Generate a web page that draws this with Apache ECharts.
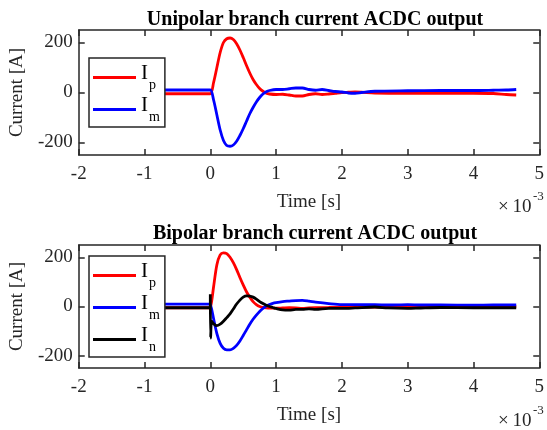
<!DOCTYPE html>
<html>
<head>
<meta charset="utf-8">
<script src="https://cdn.jsdelivr.net/npm/echarts@6/dist/echarts.min.js"></script>
<style>
  html, body { margin: 0; padding: 0; background: #fff; }
  #main { width: 547px; height: 430px; }
</style>
</head>
<body>
<div id="main"></div>
<script>
// time in ms (axis shows x 10^-3 s)
var tUni = [-0.7, -0.4, -0.1, 0, 0.05, 0.1, 0.15, 0.2, 0.25, 0.3, 0.35, 0.4, 0.45, 0.5, 0.55, 0.6, 0.65, 0.7, 0.75, 0.8, 0.85, 0.9, 1.0, 1.1, 1.2, 1.3, 1.4, 1.5, 1.6, 1.7, 1.8, 1.9, 2.0, 2.1, 2.2, 2.3, 2.5, 3.0, 3.5, 4.0, 4.3, 4.5, 4.65];
var ipUni = [-5, -5, -5, -5, 40, 100, 160, 200, 215, 218, 212, 195, 170, 140, 108, 78, 52, 32, 16, 5, -3, -6, -8, -7, -10, -14, -14, -8, -5, -8, -6, -3, 0, 1, 2, 1, -2, -3, -3, -3, -4, -8, -10];
var imUni = [10, 10, 10, 10, -30, -90, -150, -192, -212, -215, -210, -195, -172, -145, -115, -85, -60, -38, -20, -6, 3, 8, 12, 12, 15, 18, 18, 12, 9, 12, 8, 4, 2, -2, -3, 0, 5, 7, 8, 8, 9, 10, 12];

var tBi = [-0.7, -0.4, -0.1, 0, 0, 0.005, 0.02, 0.05, 0.1, 0.15, 0.2, 0.25, 0.3, 0.35, 0.4, 0.45, 0.5, 0.55, 0.6, 0.65, 0.7, 0.75, 0.8, 0.85, 0.9, 0.95, 1.0, 1.1, 1.2, 1.3, 1.4, 1.5, 1.6, 1.8, 2.0, 2.2, 2.5, 2.7, 3.0, 3.2, 3.5, 4.0, 4.3, 4.65];
var ipBi = [-5, -5, -5, -5, -5, -5, 20, 80, 170, 210, 218, 215, 200, 178, 150, 118, 88, 60, 38, 20, 8, 0, -4, -6, -7, -7, -7, -6, -5, -6, -8, -6, -5, -4, -3, -3, -2, -3, -2, -1, 0, 0, 0, 0];
var imBi = [10, 10, 10, 10, 10, 10, -10, -50, -110, -150, -170, -176, -176, -170, -158, -140, -118, -95, -72, -52, -35, -20, -8, 2, 8, 13, 16, 20, 22, 24, 25, 22, 18, 12, 8, 8, 8, 6, 8, 6, 6, 5, 6, 6];
var inBi = [-5, -5, -5, -5, 50, -128, -60, -70, -78, -72, -60, -45, -30, -10, 10, 26, 38, 43, 42, 38, 30, 20, 12, 5, 0, -4, -8, -14, -15, -12, -12, -10, -12, -8, -8, -6, -2, -6, -8, -6, -4, -5, -5, -5];

var xTicks = [-2, 5, 1];
var yTickValues = [-200, 0, 200];
var titles = ['Unipolar branch current ACDC output', 'Bipolar branch current ACDC output'];

function zip(t, v) {
  return t.map(function (x, i) { return [x, v[i]]; });
}

var FONT = '"Liberation Serif", "DejaVu Serif", serif';
var AX = '#262626';

function xAx(grid, top) {
  return {
    type: 'value', gridIndex: grid, min: xTicks[0], max: xTicks[1], interval: xTicks[2],
    position: top ? 'top' : 'bottom',
    name: top ? '' : 'Time [s]', nameLocation: 'middle', nameGap: 38,
    nameTextStyle: { fontFamily: FONT, fontSize: 19, color: AX },
    axisLine: { show: true, onZero: false, lineStyle: { color: AX, width: 1.5 } },
    axisTick: { show: true, inside: true, length: 6, lineStyle: { color: AX, width: 1.5 } },
    axisLabel: { show: !top, margin: 10, fontFamily: FONT, fontSize: 19, color: AX },
    splitLine: { show: false }
  };
}

function yAx(grid, right) {
  return {
    type: 'value', gridIndex: grid, min: -250, max: 250,
    position: right ? 'right' : 'left',
    name: right ? '' : 'Current [A]', nameLocation: 'middle', nameGap: 50,
    nameTextStyle: { fontFamily: FONT, fontSize: 19, color: AX },
    axisLine: { show: true, onZero: false, lineStyle: { color: AX, width: 1.5 } },
    axisTick: { show: true, inside: true, length: 6, customValues: yTickValues, lineStyle: { color: AX, width: 1.5 } },
    axisLabel: { show: !right, margin: 6, customValues: yTickValues, fontFamily: FONT, fontSize: 19, color: AX },
    splitLine: { show: false }
  };
}

function line(name, color, xi, yi, data) {
  return {
    name: name, type: 'line', xAxisIndex: xi, yAxisIndex: yi, data: data,
    symbol: 'none', smooth: 0.3, animation: false,
    lineStyle: { color: color, width: 2.8 }, itemStyle: { color: color }
  };
}

function legend(top, names) {
  return {
    orient: 'vertical', left: 89, top: top, data: names,
    backgroundColor: '#fff', borderColor: AX, borderWidth: 1.5, borderRadius: 0,
    padding: [5, 5, 3, 4], itemGap: 3, itemWidth: 43, itemHeight: 3, icon: 'rect',
    formatter: function (n) { return '{i|I}{s|' + n.slice(1) + '}'; },
    textStyle: {
      color: '#000',
      rich: {
        i: { fontFamily: FONT, fontSize: 21, verticalAlign: 'top' },
        s: { fontFamily: FONT, fontSize: 14, verticalAlign: 'bottom', padding: [15, 0, 0, 1] }
      }
    }
  };
}

var chart = echarts.init(document.getElementById('main'), null, { renderer: 'canvas' });
chart.setOption({
  animation: false,
  backgroundColor: '#fff',
  title: [
    { text: titles[0], left: 310, textAlign: 'center', top: 5, textStyle: { fontFamily: FONT, fontSize: 20, fontWeight: 'bold', color: '#000' } },
    { text: titles[1], left: 310, textAlign: 'center', top: 219, textStyle: { fontFamily: FONT, fontSize: 20, fontWeight: 'bold', color: '#000' } }
  ],
  grid: [
    { left: 77, right: 4, top: 30, height: 125 },
    { left: 77, right: 4, top: 245, height: 123 }
  ],
  xAxis: [xAx(0, false), xAx(0, true), xAx(1, false), xAx(1, true)],
  yAxis: [yAx(0, false), yAx(0, true), yAx(1, false), yAx(1, true)],
  legend: [legend(58, ['Ip', 'Im']), legend(256, ['Ip', 'Im', 'In'])],
  series: [
    line('Ip', '#ff0000', 0, 0, zip(tUni, ipUni)),
    line('Im', '#0000ff', 0, 0, zip(tUni, imUni)),
    line('Ip', '#ff0000', 2, 2, zip(tBi, ipBi)),
    line('Im', '#0000ff', 2, 2, zip(tBi, imBi)),
    line('In', '#000000', 2, 2, zip(tBi, inBi))
  ],
  graphic: [
    { type: 'text', left: 498, top: 198, style: { text: '×\u200910', font: '19px ' + FONT, fill: AX } },
    { type: 'text', left: 533, top: 190, style: { text: '-3', font: '13px ' + FONT, fill: AX } },
    { type: 'text', left: 498, top: 412, style: { text: '×\u200910', font: '19px ' + FONT, fill: AX } },
    { type: 'text', left: 533, top: 404, style: { text: '-3', font: '13px ' + FONT, fill: AX } }
  ]
});
</script>
</body>
</html>
